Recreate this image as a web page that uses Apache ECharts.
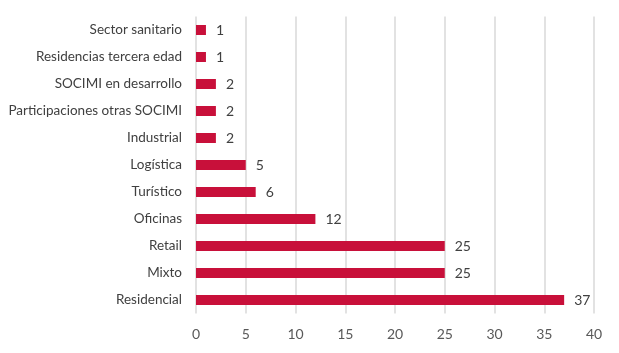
<!DOCTYPE html>
<html>
<head>
<meta charset="utf-8">
<style>
  html, body { margin: 0; padding: 0; background: #fff; }
  #chart { width: 619px; height: 353px; }
</style>
<script src="https://cdn.jsdelivr.net/npm/echarts@6/dist/echarts.min.js"></script>
</head>
<body>
<div id="chart"></div>
<script>
// categorías (de abajo arriba)
var categories = ['Residencial', 'Mixto', 'Retail', 'Oficinas', 'Turístico', 'Logística',
    'Industrial', 'Participaciones otras SOCIMI', 'SOCIMI en desarrollo',
    'Residencias tercera edad', 'Sector sanitario'];
var values = [37, 25, 25, 12, 6, 5, 2, 2, 2, 1, 1];
var xTicks = [0, 5, 10, 15, 20, 25, 30, 35, 40];

var chart = echarts.init(document.getElementById('chart'));

var option = {
    animation: false,
    grid: {
        left: 196,
        right: 25,
        top: 16.5,
        bottom: 39.5
    },
    textStyle: {
        fontFamily: 'Lato, "Open Sans", sans-serif'
    },
    xAxis: {
        type: 'value',
        min: xTicks[0],
        max: xTicks[xTicks.length - 1],
        interval: 5,
        axisLine: { show: false },
        axisTick: { show: false },
        axisLabel: {
            color: '#595959',
            fontSize: 14,
            margin: 14
        },
        splitLine: {
            lineStyle: { color: '#d9d9d9', width: 1.5 }
        }
    },
    yAxis: {
        type: 'category',
        data: categories,
        axisLine: { show: false },
        axisTick: { show: false },
        axisLabel: {
            color: '#404040',
            fontSize: 13.5,
            margin: 14
        }
    },
    series: [{
        type: 'bar',
        data: values,
        barWidth: 10,
        itemStyle: {
            color: '#c8103a'
        },
        label: {
            show: true,
            position: 'right',
            distance: 10,
            color: '#404040',
            fontSize: 14
        }
    }]
};

chart.setOption(option);
</script>
</body>
</html>
